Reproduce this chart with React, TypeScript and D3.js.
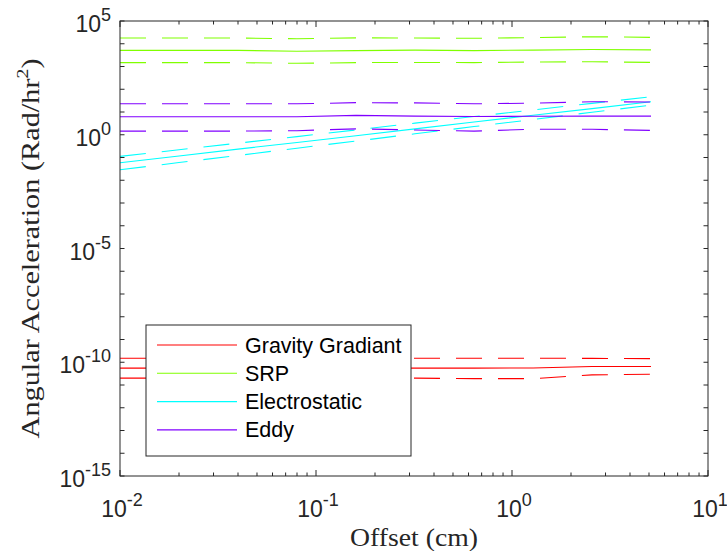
import React from 'react';
import * as d3 from 'd3';

// offsets (cm)
const offsets = [0.01, 0.02, 0.04, 0.08, 0.16, 0.32, 0.64, 1.28, 2.56, 5.12];

const gravityMid = [5.5e-11, 5.5e-11, 5.5e-11, 5.5e-11, 5.5e-11, 5.5e-11, 5.5e-11, 5.6e-11, 6.5e-11, 6.5e-11];
const gravityHi = [1.51e-10, 1.51e-10, 1.51e-10, 1.51e-10, 1.51e-10, 1.51e-10, 1.51e-10, 1.51e-10, 1.48e-10, 1.45e-10];
const gravityLo = [2.0e-11, 2.0e-11, 2.0e-11, 2.0e-11, 2.0e-11, 2.0e-11, 1.9e-11, 1.9e-11, 2.8e-11, 2.95e-11];

const srpMid = [5130, 5130, 5130, 4680, 5010, 5250, 5010, 5250, 5620, 5370];
const srpHi = [17800, 17800, 17800, 16600, 18200, 17800, 17400, 18600, 20400, 19100];
const srpLo = [1480, 1480, 1480, 1380, 1480, 1510, 1480, 1580, 1620, 1510];

const elecMid = [0.059, 0.117, 0.234, 0.457, 0.91, 1.82, 3.63, 7.24, 14.1, 28.2];
const elecHi = [0.112, 0.219, 0.427, 0.83, 1.62, 3.24, 6.3, 12.3, 24, 46.8];
const elecLo = [0.0288, 0.06, 0.123, 0.257, 0.525, 1.1, 2.29, 4.68, 9.77, 20];

const eddyMid = [6.17, 6.17, 6.17, 6.17, 7.08, 6.61, 6.31, 6.46, 6.61, 6.61];
const eddyHi = [22.9, 22.9, 22.9, 22.9, 25.7, 25.1, 22.9, 24.5, 28.2, 27.5];
const eddyLo = [1.45, 1.45, 1.45, 1.51, 1.82, 1.62, 1.45, 1.74, 1.74, 1.55];

const seriesNames = ['Gravity Gradiant', 'SRP', 'Electrostatic', 'Eddy'];
const seriesColors = ['#ff0000', '#80ff00', '#00ffff', '#8000ff'];
const seriesData = [
    [gravityMid, gravityHi, gravityLo],
    [srpMid, srpHi, srpLo],
    [elecMid, elecHi, elecLo],
    [eddyMid, eddyHi, eddyLo],
];

const xTickExp = [-2, -1, 0, 1];
const yTickExp = [5, 0, -5, -10, -15];

const width = 727;
const height = 551;
const left = 120, right = 708, top = 21, bottom = 476;
const axisColor = '#262626';
const tickFont = 'Liberation Sans, Arial, sans-serif';
const serif = 'Liberation Serif, Times New Roman, serif';

function App() {
    const x = d3.scaleLog().domain([1e-2, 1e1]).range([left, right]);
    const y = d3.scaleLog().domain([1e-15, 1e5]).range([bottom, top]);

    const line = d3
        .line<number>()
        .x((_, i) => x(offsets[i]))
        .y((d) => y(d));

    // every decade gets a tick on y
    const yTicks = d3.range(-15, 6).map((e) => Math.pow(10, e));
    const xMajor = [1e-2, 1e-1, 1, 10];
    const xMinor: number[] = [];
    [-2, -1, 0].forEach((e) => {
        for (let k = 2; k <= 9; k++) xMinor.push(k * Math.pow(10, e));
    });

    const legX = 146, legY = 325, legW = 265, legH = 131;
    const expText = (e: number) => (e < 0 ? '-' + Math.abs(e) : String(e));

    return (
        <svg width={width} height={height} style={{position: 'absolute', left: 0, top: 0, background: '#fff'}}>
            <rect x={0} y={0} width={width} height={height} fill="#fff"/>
            <defs>
                <clipPath id="plotclip">
                    <rect x={left} y={top} width={right - left} height={bottom - top}/>
                </clipPath>
            </defs>

            <g clipPath="url(#plotclip)">
                {seriesData.map((sets, si) => (
                    <g key={si}>
                        {sets.map((vals, j) => (
                            <path
                                key={j}
                                d={line(vals) || ''}
                                fill="none"
                                stroke={seriesColors[si]}
                                strokeWidth={1.1}
                                strokeDasharray={j === 0 ? undefined : '26,16'}
                            />
                        ))}
                    </g>
                ))}
            </g>

            {/* axes box */}
            <rect x={left} y={top} width={right - left} height={bottom - top} fill="none" stroke={axisColor} strokeWidth={1}/>

            {yTicks.map((t, i) => (
                <g key={'yt' + i} stroke={axisColor}>
                    <line x1={left} x2={left + 4.5} y1={y(t)} y2={y(t)}/>
                    <line x1={right} x2={right - 4.5} y1={y(t)} y2={y(t)}/>
                </g>
            ))}
            {xMajor.map((t, i) => (
                <g key={'xM' + i} stroke={axisColor}>
                    <line x1={x(t)} x2={x(t)} y1={bottom} y2={bottom - 6}/>
                    <line x1={x(t)} x2={x(t)} y1={top} y2={top + 6}/>
                </g>
            ))}
            {xMinor.map((t, i) => (
                <g key={'xm' + i} stroke={axisColor}>
                    <line x1={x(t)} x2={x(t)} y1={bottom} y2={bottom - 3.5}/>
                    <line x1={x(t)} x2={x(t)} y1={top} y2={top + 3.5}/>
                </g>
            ))}

            {yTickExp.map((e) => (
                <text key={'yl' + e} x={111} y={y(Math.pow(10, e)) + 11} textAnchor="end"
                      fontFamily={tickFont} fontSize={23} fill={axisColor}>
                    10<tspan dy={-11} fontSize={18}>{expText(e)}</tspan>
                </text>
            ))}
            {xTickExp.map((e) => (
                <text key={'xl' + e} x={x(Math.pow(10, e)) + 2} y={517} textAnchor="middle"
                      fontFamily={tickFont} fontSize={23} fill={axisColor}>
                    10<tspan dy={-11} fontSize={18}>{expText(e)}</tspan>
                </text>
            ))}

            <text x={(left + right) / 2} y={546} textAnchor="middle" fontFamily={serif} fontSize={25}
                  fill={axisColor} textLength={128} lengthAdjust="spacingAndGlyphs">
                Offset (cm)
            </text>
            <text transform={`translate(39, ${(top + bottom) / 2}) rotate(-90)`} textAnchor="middle"
                  fontFamily={serif} fontSize={26} fill={axisColor} textLength={380} lengthAdjust="spacingAndGlyphs">
                Angular Acceleration (Rad/hr<tspan dy={-11} fontSize={17}>2</tspan><tspan dy={11}>)</tspan>
            </text>

            {/* legend */}
            <rect x={legX} y={legY} width={legW} height={legH} fill="#fff" stroke={axisColor} strokeWidth={1}/>
            {seriesNames.map((name, i) => (
                <g key={name}>
                    <line x1={157} x2={237} y1={345 + i * 28.3} y2={345 + i * 28.3} stroke={seriesColors[i]} strokeWidth={1.1}/>
                    <text x={245} y={345 + i * 28.3 + 7.5} fontFamily={tickFont} fontSize={21.5} fill="#000">{name}</text>
                </g>
            ))}
        </svg>
    );
}

export default App;
